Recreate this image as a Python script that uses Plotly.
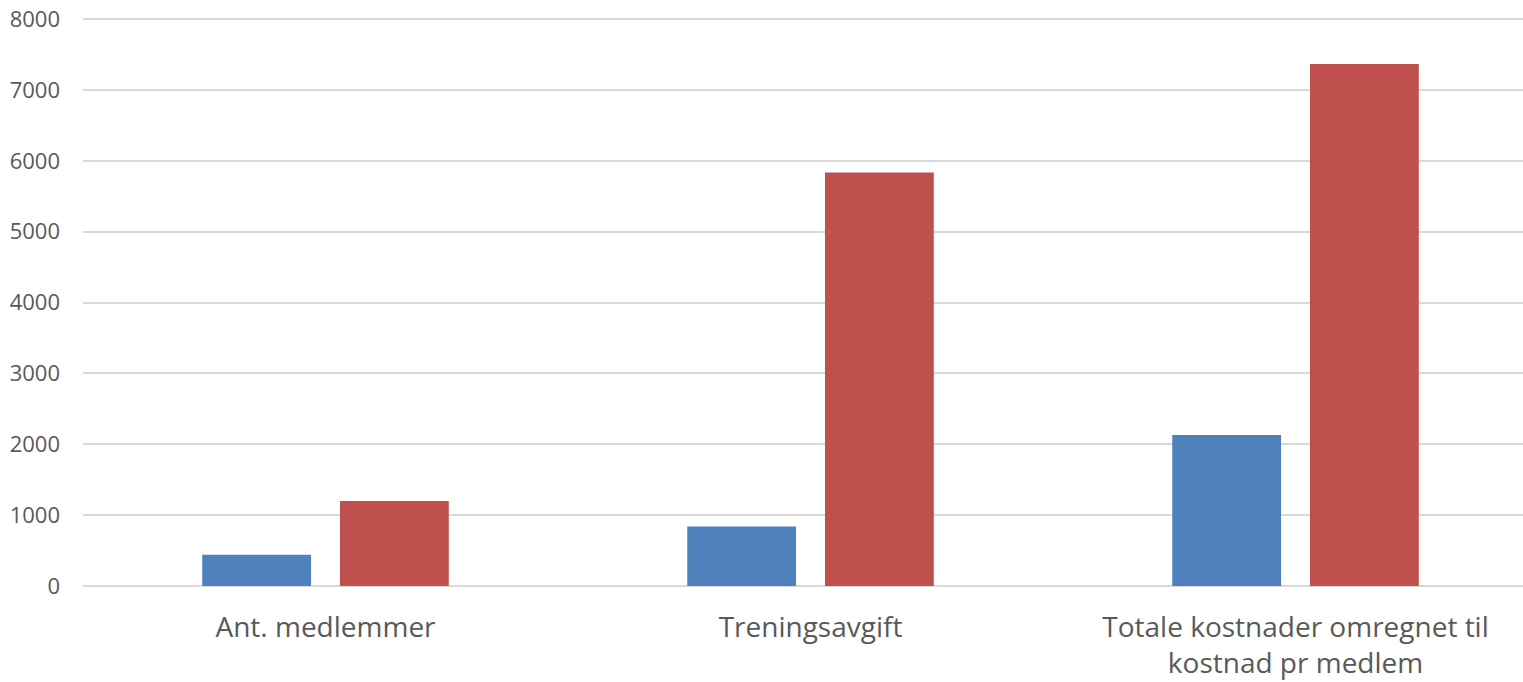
import plotly.graph_objects as go

categories = ["Ant. medlemmer", "Treningsavgift", "Totale kostnader omregnet til<br>kostnad pr medlem"]
series1_values = [440, 840, 2130]
series2_values = [1200, 5835, 7365]
y_ticks = [0, 1000, 2000, 3000, 4000, 5000, 6000, 7000, 8000]

fig = go.Figure()
fig.add_trace(go.Bar(x=categories, y=series1_values, name="Serie 1",
                     marker=dict(color="#4F81BD", line=dict(width=0))))
fig.add_trace(go.Bar(x=categories, y=series2_values, name="Serie 2",
                     marker=dict(color="#C0504D", line=dict(width=0))))

fig.update_layout(
    width=1523, height=682,
    margin=dict(l=83, r=0, t=18, b=96, autoexpand=False),
    barmode="group", bargap=0.432, bargroupgap=0.21,
    plot_bgcolor="white", paper_bgcolor="white",
    showlegend=False,
    font=dict(family="Open Sans", color="#595959"),
)
fig.update_yaxes(range=[0, 8015], tickvals=y_ticks, showgrid=True,
                 gridcolor="#D9D9D9", gridwidth=1.5, zeroline=True,
                 zerolinecolor="#D9D9D9", zerolinewidth=1.5,
                 showline=False, ticks="", tickfont=dict(size=22, color="#595959"),
                 ticklabelstandoff=22, ticklabeloverflow="allow", automargin=False)
fig.update_xaxes(range=[-0.5, 2.469], showline=False, ticks="",
                 tickfont=dict(size=28, color="#595959"),
                 ticklabelstandoff=22, ticklabeloverflow="allow", automargin=False)

fig.write_html("out.html",
               config={"displayModeBar": False},
               post_script="document.body.style.margin='0';document.body.style.overflow='hidden';")
